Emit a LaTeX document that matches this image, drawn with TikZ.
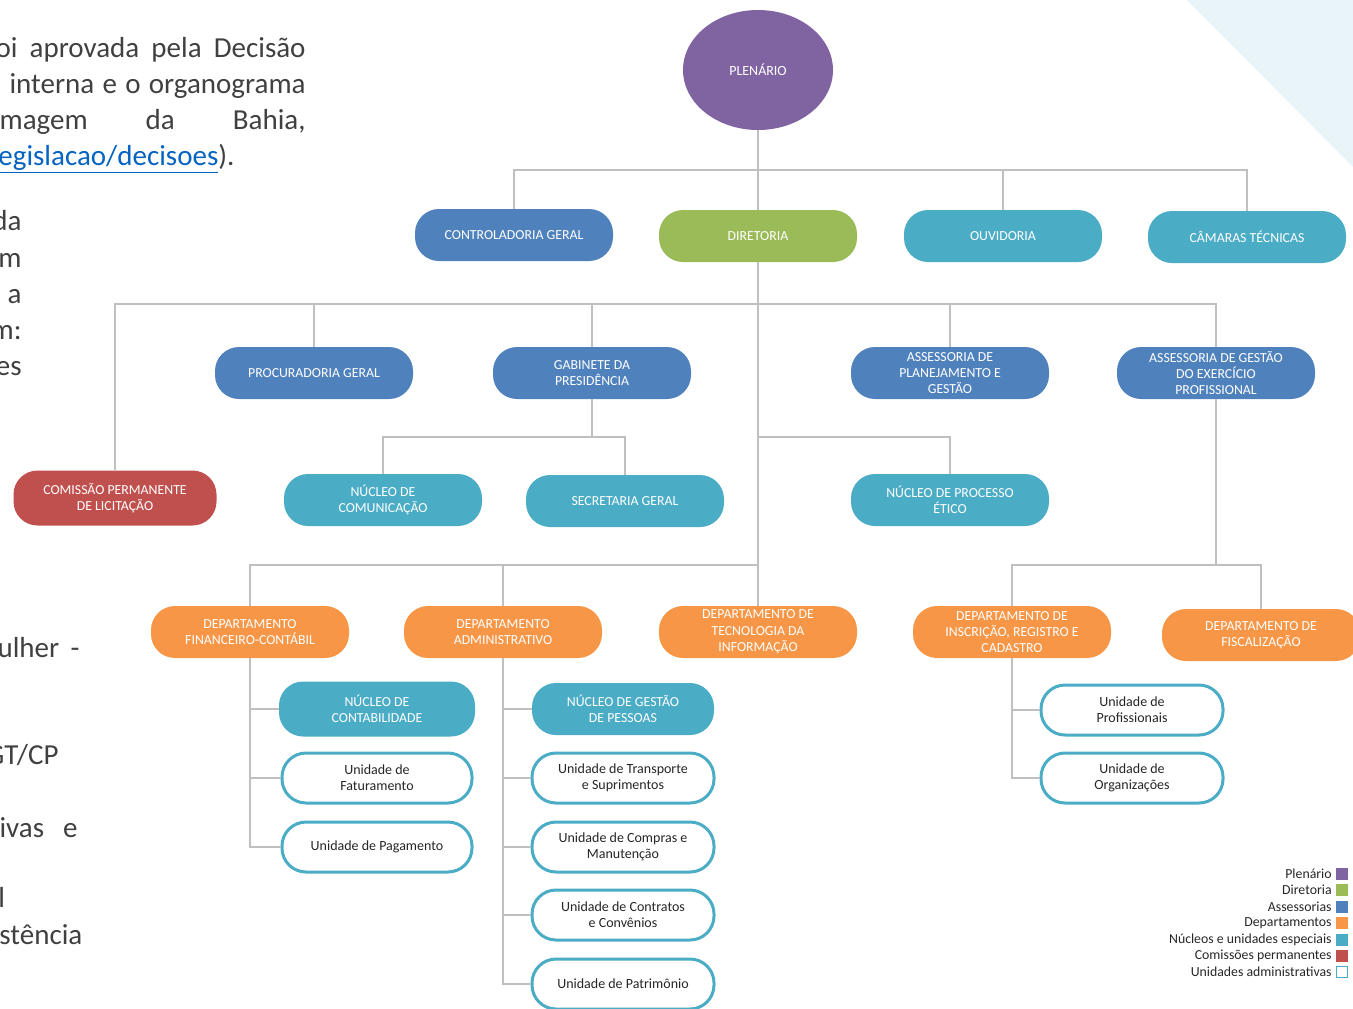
\documentclass[tikz,border=0pt]{standalone}
\usepackage{fontspec}
\setmainfont{Carlito}
\usetikzlibrary{shapes.geometric}

\definecolor{cplen}{HTML}{8064A2}
\definecolor{cdir}{HTML}{9BBB59}
\definecolor{cass}{HTML}{4F81BD}
\definecolor{cdep}{HTML}{F79646}
\definecolor{cnuc}{HTML}{4BACC6}
\definecolor{ccom}{HTML}{C0504D}
\definecolor{clinha}{HTML}{C0C0C0}
\definecolor{ctexto}{HTML}{404040}
\definecolor{clink}{HTML}{0563C1}
\definecolor{cfundo}{HTML}{E9F4F8}

\tikzset{
  caixa/.style={rectangle, rounded corners=12pt, minimum width=99pt, minimum height=26pt,
    text=white, align=center, inner sep=1pt, font=\fontsize{6.9}{8.2}\selectfont},
  unid/.style={caixa, fill=white, draw=cnuc, line width=1.5pt, minimum width=91pt,
    minimum height=25pt, text=black!85, font=\fontsize{7}{8}\selectfont},
  conn/.style={draw=clinha, line width=1.3pt},
  corpo/.style={inner sep=0pt, text=ctexto, font=\fontsize{14.5}{18}\selectfont},
  legenda/.style={inner sep=0pt, anchor=east, text=black!85, font=\fontsize{6.9}{8}\selectfont},
  quadro/.style={minimum size=6pt, inner sep=0pt},
}

\begin{document}
\begin{tikzpicture}[x=0.5pt,y=-0.5pt]
      \useasboundingbox (0,0) rectangle (1353,1008);
      \clip (0,0) rectangle (1353,1008);
      \fill[cfundo] (1187,0) -- (1353,0) -- (1353,167) -- cycle;

      % texto do documento, cortado na margem
      \node[corpo, anchor=base east] (l1) at (306,57) {\makebox[155pt][s]{oi aprovada pela Decisão}};
      \node[corpo, anchor=base east] (l2) at (306,93) {\makebox[148pt][s]{interna e o organograma}};
      \node[corpo, anchor=base east] (l3) at (306,129) {\makebox[153pt][s]{magem da Bahia,}};
      \node[corpo, anchor=base west] (l4) at (-2,165) {\textcolor{clink}{\underline{egislacao/decisoes}}).};
      \node[corpo, anchor=base east] (l5) at (22,230) {da};
      \node[corpo, anchor=base east] (l6) at (22,267) {m};
      \node[corpo, anchor=base east] (l7) at (22,303) {a a};
      \node[corpo, anchor=base east] (l8) at (22,339) {m:};
      \node[corpo, anchor=base east] (l9) at (22,375) {es};
      \node[corpo, anchor=base east] (l10) at (80,657) {\makebox[41pt][s]{ulher -}};
      \node[corpo, anchor=base east] (l11) at (59,764) {GT/CP};
      \node[corpo, anchor=base east] (l12) at (78,837) {\makebox[39pt][s]{ivas e}};
      \node[corpo, anchor=base west] (l13) at (-2,907) {l};
      \node[corpo, anchor=base west] (l14) at (-1,944) {stência};

      \node[ellipse, fill=cplen, minimum width=75pt, minimum height=60pt, text=white,
        font=\fontsize{7}{8}\selectfont] (plen) at (758,70) {PLENÁRIO};

      \node[caixa, fill=cass] (ctrl) at (514,235) {CONTROLADORIA GERAL};
      \node[caixa, fill=cdir] (dire) at (758,236) {DIRETORIA};
      \node[caixa, fill=cnuc] (ouv) at (1003,236) {OUVIDORIA};
      \node[caixa, fill=cnuc] (cam) at (1247,237) {CÂMARAS TÉCNICAS};

      \node[caixa, fill=cass] (proc) at (314,373) {PROCURADORIA GERAL};
      \node[caixa, fill=cass] (gab) at (592,373) {GABINETE DA\\PRESIDÊNCIA};
      \node[caixa, fill=cass] (aspg) at (950,373) {ASSESSORIA DE\\PLANEJAMENTO E\\GESTÃO};
      \node[caixa, fill=cass] (agep) at (1216,373) {ASSESSORIA DE GESTÃO\\DO EXERCÍCIO\\PROFISSIONAL};

      \node[caixa, fill=ccom, minimum width=101.5pt, minimum height=27.5pt] (cpl) at (115,498) {COMISSÃO PERMANENTE\\DE LICITAÇÃO};
      \node[caixa, fill=cnuc] (ncom) at (383,500) {NÚCLEO DE\\COMUNICAÇÃO};
      \node[caixa, fill=cnuc] (sg) at (625,501) {SECRETARIA GERAL};
      \node[caixa, fill=cnuc] (npe) at (950,500) {NÚCLEO DE PROCESSO\\ÉTICO};

      \node[caixa, fill=cdep] (dfin) at (250,632) {DEPARTAMENTO\\FINANCEIRO-CONTÁBIL};
      \node[caixa, fill=cdep] (dadm) at (503,632) {DEPARTAMENTO\\ADMINISTRATIVO};
      \node[caixa, fill=cdep] (dti) at (758,632) {DEPARTAMENTO DE\\TECNOLOGIA DA\\INFORMAÇÃO};
      \node[caixa, fill=cdep] (dins) at (1012,632) {DEPARTAMENTO DE\\INSCRIÇÃO, REGISTRO E\\CADASTRO};
      \node[caixa, fill=cdep] (dfis) at (1261,635) {DEPARTAMENTO DE\\FISCALIZAÇÃO};

      \node[caixa, fill=cnuc, minimum width=98pt, minimum height=27.5pt] (ncont) at (377,709) {NÚCLEO DE\\CONTABILIDADE};
      \node[unid, minimum width=95pt] (ufat) at (377,778) {Unidade de\\Faturamento};
      \node[unid, minimum width=95pt] (upag) at (377,847) {Unidade de Pagamento};

      \node[caixa, fill=cnuc, minimum width=91pt] (ngp) at (623,709) {NÚCLEO DE GESTÃO\\DE PESSOAS};
      \node[unid] (utra) at (623,778) {Unidade de Transporte\\e Suprimentos};
      \node[unid] (ucom) at (623,847) {Unidade de Compras e\\Manutenção};
      \node[unid] (ucon) at (623,915) {Unidade de Contratos\\e Convênios};
      \node[unid] (upat) at (623,984) {Unidade de Patrimônio};

      \node[unid] (uprof) at (1132,710) {Unidade de\\Profissionais};
      \node[unid] (uorg) at (1132,778) {Unidade de\\Organizações};

      \coordinate (t1) at (758,170);
      \coordinate (t2) at (758,304);
      \coordinate (t3) at (758,565);
      \coordinate (t4) at (758,437);
      \coordinate (t5) at (592,437);
      \coordinate (t6) at (1216,565);

      \draw[conn] (plen.south) -- (dire.north);
      \draw[conn] (ctrl.north) |- (t1) -| (cam.north);
      \draw[conn] (ouv.north) -- (ouv.north |- t1);
      \draw[conn] (dire.south) -- (dti.north);
      \draw[conn] (cpl.north) |- (t2) -| (agep.north);
      \draw[conn] (proc.north) -- (proc.north |- t2);
      \draw[conn] (gab.north) -- (gab.north |- t2);
      \draw[conn] (aspg.north) -- (aspg.north |- t2);
      \draw[conn] (gab.south) -- (t5);
      \draw[conn] (ncom.north) |- (t5) -| (sg.north);
      \draw[conn] (t4) -| (npe.north);
      \draw[conn] (t3) -| (dfin.north);
      \draw[conn] (dadm.north) -- (dadm.north |- t3);
      \draw[conn] (agep.south) -- (t6);
      \draw[conn] (dins.north) |- (t6) -| (dfis.north);
      \draw[conn] (dfin.south) |- (upag.west);
      \draw[conn] (ncont.west) -- (ncont.west -| dfin.south);
      \draw[conn] (ufat.west) -- (ufat.west -| dfin.south);
      \draw[conn] (dadm.south) |- (upat.west);
      \draw[conn] (ngp.west) -- (ngp.west -| dadm.south);
      \draw[conn] (utra.west) -- (utra.west -| dadm.south);
      \draw[conn] (ucom.west) -- (ucom.west -| dadm.south);
      \draw[conn] (ucon.west) -- (ucon.west -| dadm.south);
      \draw[conn] (dins.south) |- (uorg.west);
      \draw[conn] (uprof.west) -- (uprof.west -| dins.south);

      \node[legenda] (g1) at (1332,874) {Plenário};
      \node[legenda] (g2) at (1332,890) {Diretoria};
      \node[legenda] (g3) at (1332,907) {Assessorias};
      \node[legenda] (g4) at (1332,923) {Departamentos};
      \node[legenda] (g5) at (1332,940) {Núcleos e unidades especiais};
      \node[legenda] (g6) at (1332,956) {Comissões permanentes};
      \node[legenda] (g7) at (1332,972) {Unidades administrativas};
      \node[quadro, fill=cplen] (q1) at (1342,874) {};
      \node[quadro, fill=cdir] (q2) at (1342,890) {};
      \node[quadro, fill=cass] (q3) at (1342,907) {};
      \node[quadro, fill=cdep] (q4) at (1342,923) {};
      \node[quadro, fill=cnuc] (q5) at (1342,940) {};
      \node[quadro, fill=ccom] (q6) at (1342,956) {};
      \node[quadro, fill=white, draw=cnuc, line width=0.7pt, minimum size=5.3pt] (q7) at (1342,972) {};
\end{tikzpicture}
\end{document}
